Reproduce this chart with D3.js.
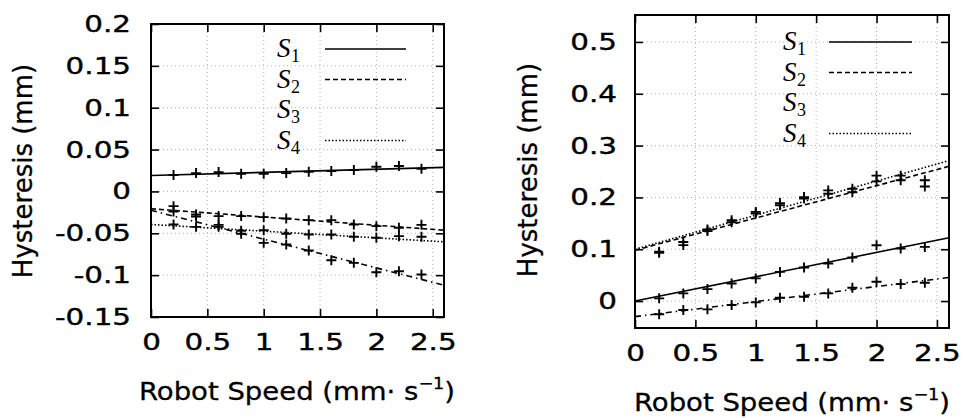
<!DOCTYPE html>
<html>
<head>
<meta charset="utf-8">
<script src="https://cdn.jsdelivr.net/npm/d3@7"></script>
<style>
body { margin: 0; background: #fff; }
svg { display: block; }
</style>
</head>
<body>
<svg width="966" height="418"></svg>
<script>
// measured points, one per robot speed
let speeds = [0.2, 0.4, 0.6, 0.8, 1.0, 1.2, 1.4, 1.6, 1.8, 2.0, 2.2, 2.4];

let leftS1 = [0.0195, 0.0219, 0.0231, 0.0211, 0.0211, 0.0219, 0.0235, 0.0243, 0.0255, 0.0295, 0.0303, 0.0271];
let leftS2 = [-0.0176, -0.0275, -0.0295, -0.0295, -0.0307, -0.0323, -0.0343, -0.0343, -0.0395, -0.0415, -0.0434, -0.0399];
let leftS3 = [-0.024, -0.030, -0.040, -0.047, -0.0614, -0.0634, -0.0706, -0.0822, -0.0853, -0.0965, -0.0953, -0.0993];
let leftS4 = [-0.0395, -0.0423, -0.0423, -0.0506, -0.0463, -0.0506, -0.0514, -0.0514, -0.0542, -0.0554, -0.0534, -0.0542];

let rightS1 = [0.0052, 0.0148, 0.0231, 0.034, 0.0437, 0.0563, 0.0648, 0.0725, 0.084, 0.1077, 0.1013, 0.1045];
let rightS2 = [0.093, 0.108, 0.135, 0.152, 0.169, 0.185, 0.198, 0.207, 0.210, 0.231, 0.233, 0.221];
let rightS3 = [-0.0256, -0.0173, -0.016, -0.0077, -0.0026, 0.0064, 0.0083, 0.0148, 0.0256, 0.0372, 0.0327, 0.0353];
let rightS4 = [0.095, 0.114, 0.138, 0.156, 0.172, 0.189, 0.2006, 0.2135, 0.2167, 0.242, 0.242, 0.233];

// fitted lines: value at speed 0 and at speed 2.6
let fitX = [0, 2.6];
let leftFits = [[0.019, 0.0287], [-0.0207, -0.0463], [-0.0226, -0.112], [-0.0395, -0.0602]];
let rightFits = [[0.0, 0.122], [0.098, 0.260], [-0.030, 0.0455], [0.100, 0.271]];

let seriesIds = ['1', '2', '3', '4'];
let xTicks = [0, 0.5, 1, 1.5, 2, 2.5];
let leftYTicks = [-0.15, -0.1, -0.05, 0, 0.05, 0.1, 0.15, 0.2];
let rightYTicks = [0, 0.1, 0.2, 0.3, 0.4, 0.5];

let dashes = [null, '5,3', '6,4,1.5,4', '1.5,2'];
let legendSample = [true, true, false, true]; // S3 sample not visible in the figure

let svg = d3.select('svg');
let stretch = 1.25; // tick labels in the figure are wide

function drawPanel(p) {
    let x = d3.scaleLinear().domain([0, 2.6]).range([p.left, p.right]);
    let y = d3.scaleLinear().domain(p.yDomain).range([p.bottom, p.top]);
    let g = svg.append('g');

    // dotted grid
    let grid = g.append('g')
        .attr('stroke', '#b4b4b4')
        .attr('stroke-width', 1)
        .attr('stroke-dasharray', '1,3');
    grid.selectAll('line.gx')
        .data(xTicks.filter(d => d > 0))
        .enter().append('line')
        .attr('x1', d => x(d)).attr('x2', d => x(d))
        .attr('y1', p.top).attr('y2', p.bottom);
    grid.selectAll('line.gy')
        .data(p.yTicks)
        .enter().append('line')
        .attr('x1', p.left).attr('x2', p.right)
        .attr('y1', d => y(d)).attr('y2', d => y(d));

    // fitted lines
    let line = d3.line().x(d => x(d[0])).y(d => y(d[1]));
    g.selectAll('path.fit')
        .data(p.fits)
        .enter().append('path')
        .attr('class', 'fit')
        .attr('d', d => line(fitX.map((v, j) => [v, d[j]])))
        .attr('fill', 'none')
        .attr('stroke', '#000')
        .attr('stroke-width', 1.6)
        .attr('stroke-dasharray', (d, i) => dashes[i]);

    // measured points as "+" markers
    p.series.forEach(vals => {
        g.append('g').selectAll('path')
            .data(vals)
            .enter().append('path')
            .attr('transform', (d, i) => 'translate(' + x(speeds[i]) + ',' + y(d) + ')')
            .attr('d', 'M-5,0H5M0,-5V5')
            .attr('stroke', '#000')
            .attr('stroke-width', 1.9);
    });

    // axes with inward ticks on all four sides
    let styleAxis = sel => {
        sel.select('.domain').remove();
        sel.selectAll('.tick line').attr('stroke', '#000').attr('stroke-width', 1.6);
        sel.selectAll('.tick text')
            .attr('font-family', '"DejaVu Sans", sans-serif')
            .attr('font-size', 23.5)
            .attr('fill', '#000')
            .attr('stroke', '#000')
            .attr('stroke-width', 0.4)
            .attr('transform', 'scale(' + stretch + ',1)')
            .attr('x', function() { return +d3.select(this).attr('x') / stretch; });
    };
    g.append('g').attr('transform', 'translate(0,' + p.bottom + ')')
        .call(d3.axisBottom(x).tickValues(xTicks).tickFormat(d => String(d))
            .tickSizeInner(-8).tickSizeOuter(0).tickPadding(16))
        .call(styleAxis);
    g.append('g').attr('transform', 'translate(0,' + p.top + ')')
        .call(d3.axisTop(x).tickValues(xTicks).tickFormat('')
            .tickSizeInner(-8).tickSizeOuter(0))
        .call(styleAxis);
    g.append('g').attr('transform', 'translate(' + p.left + ',0)')
        .call(d3.axisLeft(y).tickValues(p.yTicks).tickFormat(d => String(d))
            .tickSizeInner(-8).tickSizeOuter(0).tickPadding(p.yPad))
        .call(styleAxis);
    g.append('g').attr('transform', 'translate(' + p.right + ',0)')
        .call(d3.axisRight(y).tickValues(p.yTicks).tickFormat('')
            .tickSizeInner(-8).tickSizeOuter(0))
        .call(styleAxis);

    g.append('rect')
        .attr('x', p.left).attr('y', p.top)
        .attr('width', p.right - p.left).attr('height', p.bottom - p.top)
        .attr('fill', 'none').attr('stroke', '#000').attr('stroke-width', 2);

    // legend: S and its subscript as separate texts so the rows stay apart
    let leg = g.append('g').attr('font-family', '"Liberation Serif", serif').attr('fill', '#000');
    seriesIds.forEach((id, i) => {
        let ry = p.legendY + i * 30.5;
        leg.append('text')
            .attr('x', p.legendX).attr('y', ry + 8)
            .attr('font-style', 'italic').attr('font-size', 27)
            .text('S');
        leg.append('text')
            .attr('x', p.legendX + 14).attr('y', ry + 13)
            .attr('font-size', 18)
            .text(id);
        if (legendSample[i]) {
            leg.append('line')
                .attr('x1', p.sampleX1).attr('x2', p.sampleX2)
                .attr('y1', ry).attr('y2', ry)
                .attr('stroke', '#000').attr('stroke-width', 1.5)
                .attr('stroke-dasharray', dashes[i]);
        }
    });

    // axis titles
    let xt = g.append('text')
        .attr('transform', 'translate(' + p.xTitleX + ',' + p.xTitleY + ') scale(1.1,1)')
        .attr('text-anchor', 'middle')
        .attr('font-family', '"DejaVu Sans", sans-serif')
        .attr('font-size', 25)
        .attr('fill', '#000')
        .attr('stroke', '#000')
        .attr('stroke-width', 0.3);
    xt.append('tspan').text('Robot Speed (mm\u00b7 s');
    xt.append('tspan').attr('font-size', 16).attr('dy', -11).text('\u22121');
    xt.append('tspan').attr('dy', 11).text(')');

    g.append('text')
        .attr('transform', 'translate(' + p.yTitleX + ',' + p.yTitleY + ') rotate(-90)')
        .attr('text-anchor', 'middle')
        .attr('font-family', '"DejaVu Sans", sans-serif')
        .attr('font-size', 26)
        .attr('fill', '#000')
        .attr('stroke', '#000')
        .attr('stroke-width', 0.3)
        .text('Hysteresis (mm)');
}

drawPanel({
    left: 151, right: 444, top: 24, bottom: 317,
    yDomain: [-0.15, 0.2], yTicks: leftYTicks, yPad: 20,
    series: [leftS1, leftS2, leftS3, leftS4], fits: leftFits,
    legendX: 277, legendY: 49, sampleX1: 325, sampleX2: 406,
    xTitleX: 297, xTitleY: 400, yTitleX: 32, yTitleY: 171
});

drawPanel({
    left: 635, right: 949, top: 15, bottom: 328,
    yDomain: [-0.052, 0.552], yTicks: rightYTicks, yPad: 18,
    series: [rightS1, rightS2, rightS3, rightS4], fits: rightFits,
    legendX: 783, legendY: 42, sampleX1: 829, sampleX2: 912,
    xTitleX: 792, xTitleY: 411, yTitleX: 537, yTitleY: 170
});
</script>
</body>
</html>
